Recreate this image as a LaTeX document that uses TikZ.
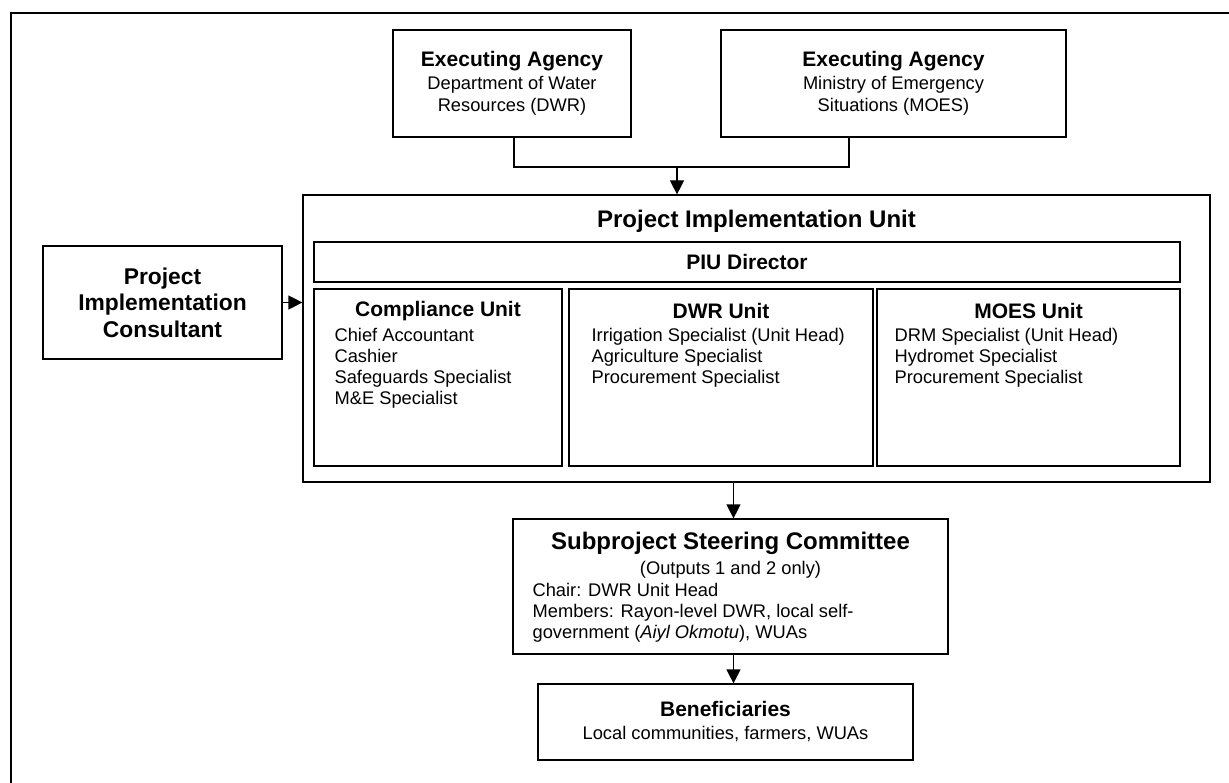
\documentclass[tikz,border=0pt]{standalone}
\usepackage{fontspec}
\setmainfont{Liberation Sans}
\usetikzlibrary{arrows.meta,calc}
\newcommand\bodyfont{\fontsize{18.3}{21}\selectfont}
\newcommand\titlefont{\fontsize{21}{24}\selectfont\bfseries}
\newcommand\bigtitlefont{\fontsize{24}{27}\selectfont\bfseries}
\newcommand\picfont{\fontsize{22.8}{26.5}\selectfont\bfseries}
\begin{document}
\begin{tikzpicture}[x=1pt,y=-1pt,
  box/.style={draw, line width=1.2pt, inner sep=0pt, align=center, font=\bodyfont},
  conn/.style={line width=1.2pt},
  arr/.style={line width=1.2pt, -{Triangle[length=14pt,width=14pt]}},
  items/.style={font=\bodyfont, align=left, anchor=north west, inner sep=0pt},
  ttl/.style={font=\titlefont, inner sep=0pt}]
\useasboundingbox (0,0) rectangle (1229,783);
\clip (0,0) rectangle (1229,783);
% outer frame
\draw[line width=2pt] (11,900) -- (11,13) -- (1300,13);

% executing agencies
\node[box, minimum width=238, minimum height=107] (dwr) at (512,83.5)
  {{\titlefont Executing Agency}\\[2pt] Department of Water\\[1pt] Resources (DWR)};
\node[box, minimum width=345, minimum height=107] (moes) at (893.5,83.5)
  {{\titlefont Executing Agency}\\[2pt] Ministry of Emergency\\[1pt] Situations (MOES)};

% PIU
\node[box, minimum width=907, minimum height=287] (piu) at (756.5,338.5) {};
\node[font=\bigtitlefont, inner sep=0pt] (piut) at (756.5,221) {Project Implementation Unit};
\node[box, minimum width=866, minimum height=40, font=\titlefont] (dir) at (747,262) {PIU Director};

\node[box, minimum width=248, minimum height=177] (cu) at (438,377.5) {};
\node[box, minimum width=304, minimum height=177] (du) at (721,377.5) {};
\node[box, minimum width=303, minimum height=177] (mu) at (1028.5,377.5) {};

\node[ttl] (cut) at ([yshift=-23pt]cu.north) {Compliance Unit};
\node[ttl] (dut) at ([yshift=-23pt]du.north) {DWR Unit};
\node[ttl] (mut) at ([yshift=-23pt]mu.north) {MOES Unit};

\node[items] (cui) at ([xshift=21pt,yshift=-39.5pt]cu.north west)
  {Chief Accountant\\Cashier\\Safeguards Specialist\\M\&E Specialist};
\node[items] (dui) at ([xshift=23pt,yshift=-39.5pt]du.north west)
  {Irrigation Specialist (Unit Head)\\Agriculture Specialist\\Procurement Specialist};
\node[items] (mui) at ([xshift=18pt,yshift=-39.5pt]mu.north west)
  {DRM Specialist (Unit Head)\\Hydromet Specialist\\Procurement Specialist};

% PIC
\node[box, minimum width=239, minimum height=113, font=\picfont] (pic) at (162.5,302.5)
  {Project\\Implementation\\Consultant};

% SSC
\node[box, minimum width=435, minimum height=135] (ssc) at (730.5,586.5) {};
\node[font=\bigtitlefont, inner sep=0pt] (ssct) at ([yshift=-24.5pt]ssc.north) {Subproject Steering Committee};
\node[font=\bodyfont, inner sep=0pt] (ssco) at ([yshift=-51.5pt]ssc.north) {(Outputs 1 and 2 only)};
\node[items] (ssci) at ([xshift=20pt,yshift=-65pt]ssc.north west)
  {Chair: DWR Unit Head\\Members: Rayon-level DWR, local self-\\government (\textit{Aiyl Okmotu}), WUAs};

% Beneficiaries
\node[box, minimum width=375, minimum height=76] (ben) at (725.5,722)
  {{\titlefont Beneficiaries}\\[2pt] Local communities, farmers, WUAs};

% connectors
\coordinate (j) at (677,167);
\draw[conn] ([xshift=2pt]dwr.south) |- (j) -| ([xshift=-44.5pt]moes.south);
\draw[arr] (j) -- (j |- piu.north);
\draw[arr] (pic.east) -- (pic.east -| piu.west);
\coordinate (sscin) at ([xshift=3pt]ssc.north);
\draw[arr] (sscin |- piu.south) -- (sscin);
\draw[arr] (sscin |- ssc.south) -- (sscin |- ben.north);
\end{tikzpicture}
\end{document}
